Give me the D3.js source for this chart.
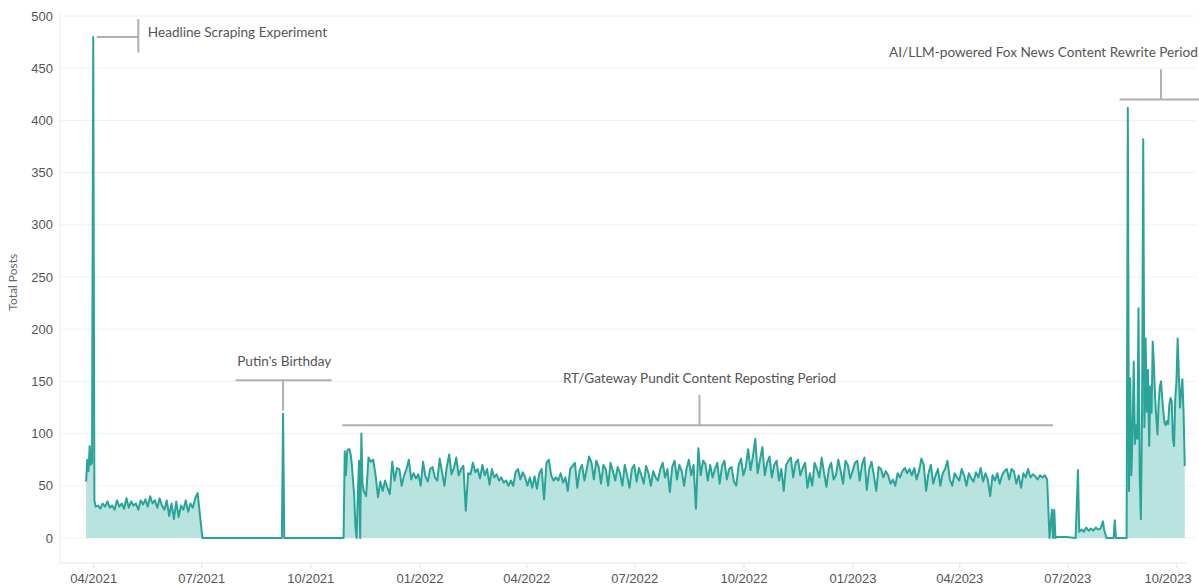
<!DOCTYPE html>
<html>
<head>
<meta charset="utf-8">
<script src="https://cdn.jsdelivr.net/npm/d3@7"></script>
<style>
  body { margin: 0; background: #fff; }
  svg { display: block; font-family: Lato, "Open Sans", sans-serif; }
  .tick text { fill: #555; font-size: 13px; }
  .annot text { fill: #555; font-size: 13.6px; }
</style>
</head>
<body>
<svg width="1199" height="587"></svg>
<script>
"use strict";
var parseDate = d3.timeParse("%Y-%m-%d");

// daily, around the launch
var launchStart = "2021-03-26";
var launchPosts = [54, 75, 64, 88, 70, 72, 480, 36, 30];

// every 2 days, spring 2021
var earlyStart = "2021-04-05";
var earlyPosts = [31, 28, 33, 30, 35, 29, 31, 27, 36, 30,
                  33, 28, 38, 29, 35, 31, 33, 27, 36, 32,
                  37, 30, 40, 33, 36, 29, 38, 31, 27, 36,
                  21, 33, 18, 35, 20, 31, 27, 36, 25, 33,
                  29, 38, 43];

// quiet summer and the one-day spike
var quietPosts = [["2021-07-02", 0], ["2021-09-07", 0], ["2021-09-08", 119],
                  ["2021-09-09", 0], ["2021-10-29", 0]];

// daily, restart of posting
var rtStartDay = "2021-10-30";
var rtStartPosts = [83, 60, 83, 85, 85, 80, 70, 55, 40, 10, 0, 40, 74, 0, 100, 52];

// every 2 days, reposting period
var rtStart = "2021-11-15";
var rtPosts = [45, 40, 77, 73, 75, 60, 39, 54, 45, 55,
               48, 42, 73, 55, 67, 66, 50, 60, 66, 75,
               56, 62, 57, 61, 50, 73, 59, 54, 66, 68,
               58, 55, 76, 63, 50, 68, 80, 61, 67, 77,
               60, 66, 69, 26, 62, 61, 72, 63, 66, 57,
               70, 60, 66, 51, 66, 58, 61, 55, 58, 53,
               55, 50, 55, 50, 63, 66, 56, 63, 58, 50,
               58, 48, 59, 47, 62, 66, 37, 72, 75, 60,
               55, 58, 55, 62, 53, 58, 45, 66, 69, 72,
               48, 65, 70, 55, 66, 78, 72, 56, 74, 68,
               52, 70, 66, 50, 72, 64, 55, 68, 62, 50,
               70, 60, 48, 66, 70, 54, 67, 60, 52, 69,
               62, 50, 64, 58, 55, 66, 72, 58, 66, 44,
               68, 74, 56, 70, 64, 50, 66, 75, 60, 70,
               28, 86, 60, 74, 71, 55, 70, 58, 66, 72,
               52, 69, 74, 56, 66, 68, 54, 50, 70, 76,
               60, 68, 85, 65, 78, 95, 62, 75, 87, 60,
               72, 78, 58, 70, 74, 55, 66, 45, 70, 74,
               77, 58, 72, 75, 60, 67, 72, 48, 62, 50,
               72, 66, 58, 77, 62, 49, 66, 72, 56, 60,
               75, 64, 52, 74, 70, 57, 64, 72, 74, 55,
               70, 77, 46, 66, 73, 60, 45, 68, 66, 58,
               64, 60, 52, 56, 50, 62, 58, 64, 67, 62,
               66, 60, 67, 56, 64, 76, 70, 45, 62, 70,
               52, 60, 66, 50, 62, 66, 74, 56, 50, 62,
               58, 55, 66, 60, 50, 62, 57, 54, 63, 58,
               67, 54, 62, 56, 40, 60, 55, 62, 52, 60,
               64, 66, 56, 66, 64, 52, 60, 48, 62, 58,
               66, 58, 61, 59, 56, 60, 58, 60, 56];

// summer 2023 lull
var lullPosts = [["2023-06-16", 0], ["2023-06-18", 27], ["2023-06-19", 0], ["2023-06-20", 27],
                 ["2023-06-21", 0], ["2023-06-22", 1], ["2023-06-30", 1], ["2023-07-08", 0],
                 ["2023-07-10", 65], ["2023-07-11", 6], ["2023-07-13", 8], ["2023-07-15", 6],
                 ["2023-07-17", 10], ["2023-07-19", 7], ["2023-07-21", 9], ["2023-07-23", 7],
                 ["2023-07-25", 10], ["2023-07-27", 8], ["2023-07-29", 9], ["2023-07-31", 16],
                 ["2023-08-01", 8], ["2023-08-03", 0], ["2023-08-09", 0], ["2023-08-10", 17],
                 ["2023-08-11", 0], ["2023-08-19", 0]];

// daily, rewrite period
var foxStart = "2023-08-20";
var foxPosts = [0, 412, 45, 153, 60, 101, 169, 90, 108, 95,
                220, 60, 18, 120, 382, 106, 191, 121, 161, 88,
                145, 120, 188, 166, 134, 115, 99, 130, 145, 150,
                134, 120, 110, 108, 112, 109, 128, 134, 131, 95,
                88, 134, 150, 191, 157, 125, 140, 152, 120, 69];

var yTicks = [0, 50, 100, 150, 200, 250, 300, 350, 400, 450, 500];
var xTicks = ["2021-04-01", "2021-07-01", "2021-10-01", "2022-01-01", "2022-04-01", "2022-07-01",
              "2022-10-01", "2023-01-01", "2023-04-01", "2023-07-01", "2023-10-01"];

var annotations = [
  {label: "Headline Scraping Experiment", from: "2021-04-04", to: "2021-05-09", level: 480,
   stem: "2021-05-09", stemTop: 497, stemBottom: 465, text: "2021-05-17", textLevel: 484, anchor: "start"},
  {label: "Putin's Birthday", from: "2021-07-30", to: "2021-10-19", level: 151,
   stem: "2021-09-08", stemTop: 151, stemBottom: 122, text: "2021-09-09", textLevel: 169, anchor: "middle"},
  {label: "RT/Gateway Pundit Content Reposting Period", from: "2021-10-28", to: "2023-06-19", level: 108,
   stem: "2022-08-25", stemTop: 137, stemBottom: 108, text: "2022-08-25", textLevel: 153, anchor: "middle"},
  {label: "AI/LLM-powered Fox News Content Rewrite Period", from: "2023-08-14", to: "2023-10-20", level: 420,
   stem: "2023-09-18", stemTop: 449, stemBottom: 420, text: "2023-10-19", textLevel: 465, anchor: "end"}
];

function stepped(start, step, values) {
  var t0 = parseDate(start);
  return values.map(function(v, i) { return {date: d3.timeDay.offset(t0, i * step), value: v}; });
}
function pairs(list) {
  return list.map(function(p) { return {date: parseDate(p[0]), value: p[1]}; });
}

var data = [].concat(
  stepped(launchStart, 1, launchPosts),
  stepped(earlyStart, 2, earlyPosts),
  pairs(quietPosts),
  stepped(rtStartDay, 1, rtStartPosts),
  stepped(rtStart, 2, rtPosts),
  pairs(lullPosts),
  stepped(foxStart, 1, foxPosts)
);

var svg = d3.select("svg"),
    plotLeft = 60, plotRight = 1199, plotTop = 16, plotBottom = 563;

var x = d3.scaleTime()
    .domain([parseDate("2021-03-04"), parseDate("2023-10-20")])
    .range([plotLeft, plotRight]);
var y = d3.scaleLinear().domain([-24, 500]).range([plotBottom, plotTop]);

// gridlines
svg.append("g")
  .selectAll("line")
  .data(yTicks)
  .enter().append("line")
    .attr("x1", plotLeft).attr("x2", 1195)
    .attr("y1", function(d) { return y(d); })
    .attr("y2", function(d) { return y(d); })
    .attr("stroke", "#f0f0f0")
    .attr("stroke-width", 1);

svg.append("line")
  .attr("x1", plotLeft).attr("x2", plotLeft)
  .attr("y1", plotTop - 4).attr("y2", plotBottom)
  .attr("stroke", "#ececec");

// y axis
var gy = svg.append("g")
  .attr("transform", "translate(" + plotLeft + ",0)")
  .call(d3.axisLeft(y).tickValues(yTicks).tickSize(0).tickPadding(7));
gy.select(".domain").remove();

svg.append("text")
  .attr("transform", "translate(17," + y(245) + ") rotate(-90)")
  .attr("text-anchor", "middle")
  .attr("fill", "#666")
  .style("font-size", "12px")
  .text("Total Posts");

// x axis
var gx = svg.append("g")
  .attr("transform", "translate(0," + plotBottom + ")")
  .call(d3.axisBottom(x)
    .tickValues(xTicks.map(parseDate))
    .tickFormat(d3.timeFormat("%m/%Y"))
    .tickSize(5).tickPadding(6));
gx.select(".domain").attr("stroke", "#e3e3e3").attr("d", "M" + plotLeft + ",0H1186");
gx.selectAll(".tick line").attr("stroke", "#e3e3e3");
gx.selectAll(".tick text").filter(function(d, i, n) { return i === n.length - 1; })
  .attr("dx", -9);

// area + line
var area = d3.area()
  .x(function(d) { return x(d.date); })
  .y0(y(0))
  .y1(function(d) { return y(d.value); });
var line = d3.line()
  .x(function(d) { return x(d.date); })
  .y(function(d) { return y(d.value); });

svg.append("path")
  .datum(data)
  .attr("d", area)
  .attr("fill", "#b9e3df");

svg.append("path")
  .datum(data)
  .attr("d", line)
  .attr("fill", "none")
  .attr("stroke", "#2aa498")
  .attr("stroke-width", 2)
  .attr("stroke-linejoin", "round");

// annotations
var annot = svg.selectAll(".annot")
  .data(annotations)
  .enter().append("g")
    .attr("class", "annot");

annot.append("line")
  .attr("x1", function(d) { return x(parseDate(d.from)); })
  .attr("x2", function(d) { return x(parseDate(d.to)); })
  .attr("y1", function(d) { return y(d.level); })
  .attr("y2", function(d) { return y(d.level); })
  .attr("stroke", "#b0b0b0").attr("stroke-width", 2);

annot.append("line")
  .attr("x1", function(d) { return x(parseDate(d.stem)); })
  .attr("x2", function(d) { return x(parseDate(d.stem)); })
  .attr("y1", function(d) { return y(d.stemTop); })
  .attr("y2", function(d) { return y(d.stemBottom); })
  .attr("stroke", "#b0b0b0").attr("stroke-width", 2);

annot.append("text")
  .attr("x", function(d) { return x(parseDate(d.text)); })
  .attr("y", function(d) { return y(d.textLevel); })
  .attr("dy", "0.35em")
  .attr("text-anchor", function(d) { return d.anchor; })
  .text(function(d) { return d.label; });
</script>
</body>
</html>
